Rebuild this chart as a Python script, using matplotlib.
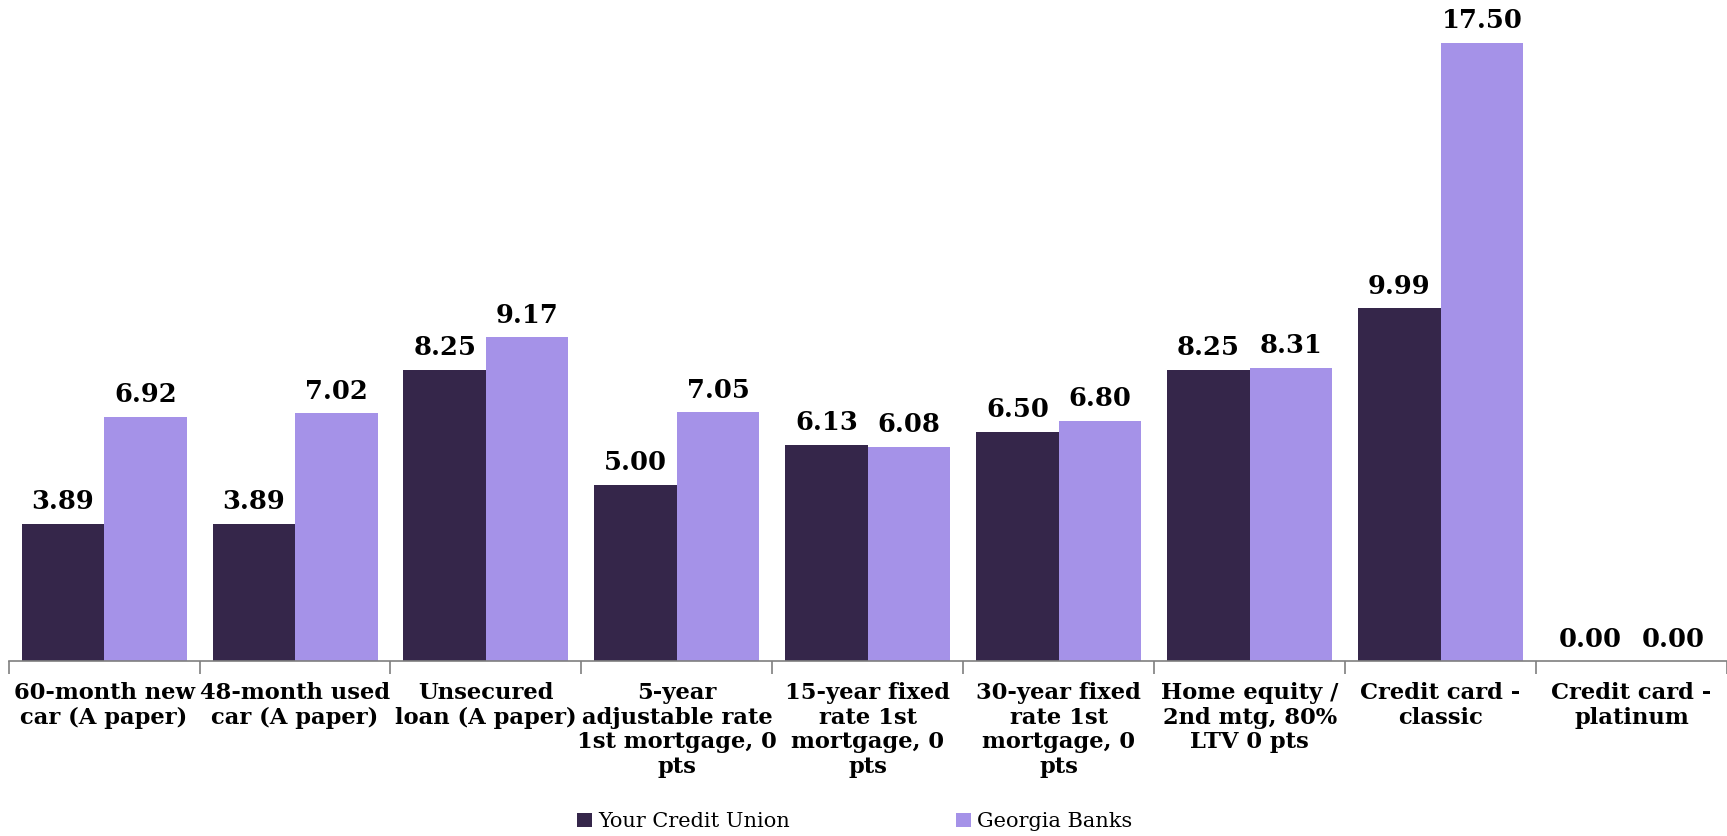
import numpy as np
import matplotlib.pyplot as plt

# loan rate comparison
categories = [
    "60-month new\ncar (A paper)",
    "48-month used\ncar (A paper)",
    "Unsecured\nloan (A paper)",
    "5-year\nadjustable rate\n1st mortgage, 0\npts",
    "15-year fixed\nrate 1st\nmortgage, 0\npts",
    "30-year fixed\nrate 1st\nmortgage, 0\npts",
    "Home equity /\n2nd mtg, 80%\nLTV 0 pts",
    "Credit card -\nclassic",
    "Credit card -\nplatinum",
]
credit_union = [3.89, 3.89, 8.25, 5.00, 6.13, 6.50, 8.25, 9.99, 0.00]
georgia_banks = [6.92, 7.02, 9.17, 7.05, 6.08, 6.80, 8.31, 17.50, 0.00]
series_names = ["Your Credit Union", "Georgia Banks"]
series_colors = ["#35264a", "#a592e8"]

plt.rcParams["font.family"] = ["DejaVu Serif"]

fig = plt.figure(figsize=(17.27, 8.36), dpi=100)
ax = fig.add_axes([0.005, 0.209, 0.995, 0.791])

x = np.arange(len(categories))
w = 0.432
bars1 = ax.bar(x - w / 2, credit_union, w, color=series_colors[0], label=series_names[0])
bars2 = ax.bar(x + w / 2, georgia_banks, w, color=series_colors[1], label=series_names[1])

for bars in (bars1, bars2):
    for b in bars:
        v = b.get_height()
        ax.annotate("%.2f" % v, (b.get_x() + b.get_width() / 2, v),
                    xytext=(0, 7), textcoords="offset points",
                    ha="center", va="bottom", fontsize=18.5, fontweight="bold")

ax.set_xlim(-0.5, len(categories) - 0.5)
ax.set_ylim(0, 18.72)

for s in ["top", "right", "left"]:
    ax.spines[s].set_visible(False)
ax.spines["bottom"].set_color("#7f7f7f")
ax.spines["bottom"].set_linewidth(1.2)
ax.set_yticks([])

# boundary ticks between groups, labels at group centres
ax.set_xticks(x)
ax.set_xticklabels(categories, fontsize=16.3, fontweight="bold", linespacing=1.15)
ax.tick_params(axis="x", which="major", length=0, pad=15)
ax.set_xticks(np.arange(len(categories) + 1) - 0.5, minor=True)
ax.tick_params(axis="x", which="minor", length=9, width=1.2, color="#7f7f7f", direction="out")

fig.legend(handles=[bars1, bars2], labels=series_names, loc="center",
           bbox_to_anchor=(0.495, 0.017), ncol=2, frameon=False,
           fontsize=15, handlelength=0.7, handleheight=0.7, handletextpad=0.3,
           columnspacing=8)

fig.savefig("out.png", dpi=100)
